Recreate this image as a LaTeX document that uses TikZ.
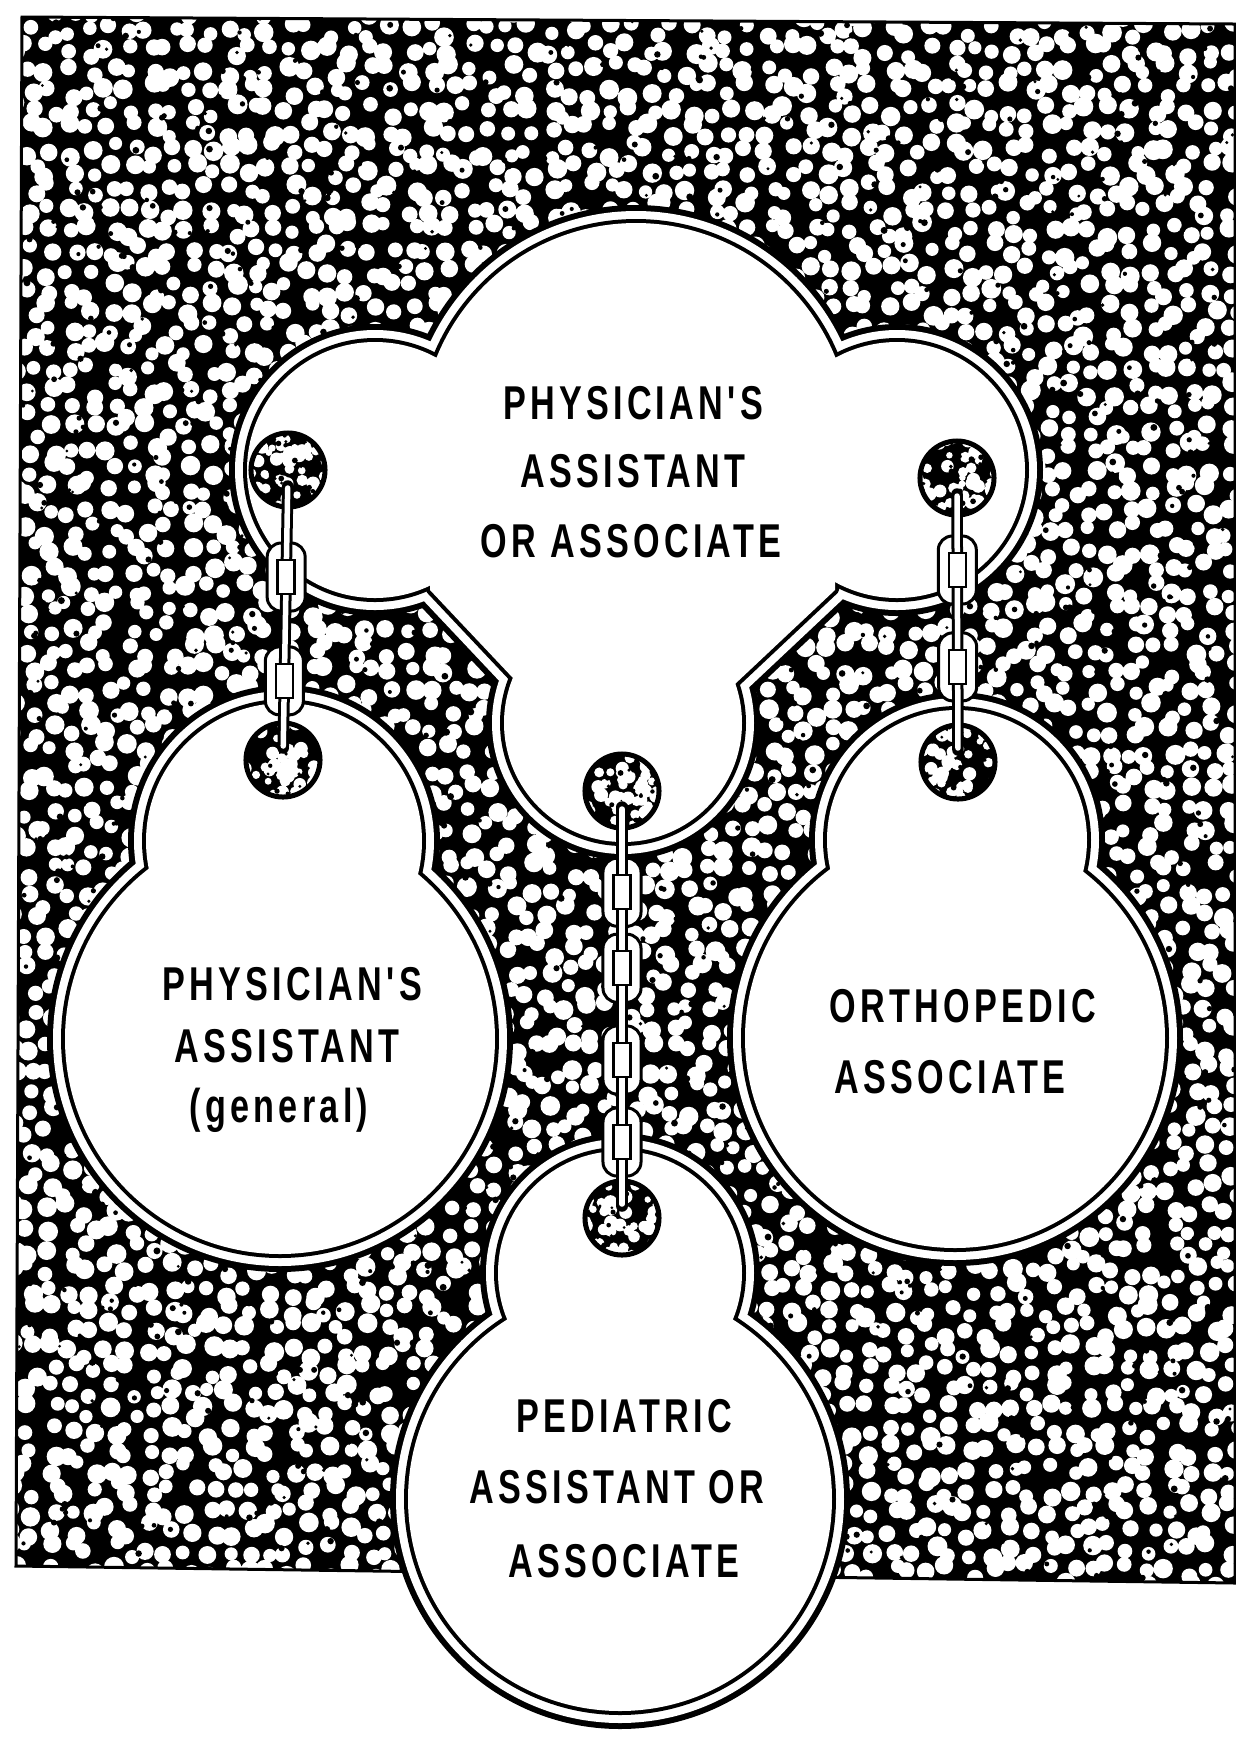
\documentclass[tikz,border=0pt]{standalone}
\usepackage{fontspec}
\usepackage{tikz}
\newfontfamily\tagfont[FakeStretch=0.72,LetterSpace=9]{Liberation Sans}

% cloud = four lobes and a neck plate, #1 offset, #2 colour, #3 neck pen
\newcommand{\cloudlayer}[4]{%
  \fill[#2] (636,438) circle ({215+#1}) (375,470) circle ({128+#1})
            (897,470) circle ({128+#1}) (623,723) circle ({119+#1});
  \path[fill=#2, draw=#3, line width=#4, line join=round]
    (430,420) -- (430,590) -- (513,678) -- (735,684) -- (835,590) -- (835,420) -- cycle;}
% tag = head circle + body circle (inner radii)
\newcommand{\gourd}[6]{%
  \foreach \o/\c in {18/black,12/white,4/black,0/white}
    {\fill[\c] (#1,#2) circle ({#3+\o}) (#4,#5) circle ({#6+\o});}}

\tikzset{
  tag/.style={font=\tagfont\bfseries\fontsize{13.5pt}{16pt}\selectfont, anchor=base, inner sep=0pt},
  ring/.style={circle, draw=black, line width=0.05cm, minimum size=0.74cm, inner sep=0pt,
    path picture={
      \fill[black] (path picture bounding box.south west) rectangle (path picture bounding box.north east);
      \fill[white, shift={(path picture bounding box.center)}]
        foreach \k in {1,...,60} {({rnd*84-42},{rnd*84-42}) circle ({3+4*rnd})};
      \fill[black, shift={(path picture bounding box.center)}]
        foreach \k in {1,...,25} {({rnd*84-42},{rnd*84-42}) circle ({1.5+1.5*rnd})};
    }},
  link/.style={draw=black, fill=white, line width=0.03cm, rounded corners=0.14cm,
    minimum width=0.38cm, minimum height=0.68cm, inner sep=0pt},
  eye/.style={draw=black, fill=white, line width=0.025cm,
    minimum width=0.17cm, minimum height=0.34cm, inner sep=0pt},
  barout/.style={line width=0.115cm, black, line cap=round},
  barin/.style={line width=0.055cm, white, line cap=round},
}

\begin{document}
\begin{tikzpicture}[x=0.01cm, y=-0.01cm]
  \useasboundingbox (0,0) rectangle (1235,1741);

  % mottled backdrop
  \begin{scope}
    \clip (22,17) -- (1235,24) -- (1235,1583) -- (16,1566) -- cycle;
    \fill[black] (0,0) rectangle (1235,1600);
    \pgfmathsetseed{31}
    \foreach \r in {0,...,79}
      {\fill[white] foreach \c in {0,...,61}
        {({20*\c+10+16*rnd-8},{20*\r+10+16*rnd-8}) circle ({6.5+3.5*rnd})};}
    \foreach \j in {1,...,10}
      {\fill[black] foreach \k in {1,...,180} {({rnd*1240},{rnd*1600}) circle ({1.5+2*rnd})};}
  \end{scope}
  \draw[line width=0.03cm] (22,17) -- (1235,24) -- (1235,1583) -- (16,1566) -- cycle;

  % the four tags
  \foreach \o/\c/\d/\w in {18/black/black/0.36cm, 12/white/white/0.24cm, 4/black/black/0.08cm, 0/white/none/0cm}
    {\cloudlayer{\o}{\c}{\d}{\w}}
  \gourd{284}{841}{138}{280}{1039}{215}
  \gourd{957}{840}{130}{955}{1038}{210}
  \gourd{620}{1273}{122}{620}{1499}{212}

  % labels
  \node[tag] (top1) at (633,419) {PHYSICIAN'S};
  \node[tag] (top2) at (633,487) {ASSISTANT};
  \node[tag] (top3) at (631,557) {OR ASSOCIATE};
  \node[tag] (gen1) at (292,1000) {PHYSICIAN'S};
  \node[tag] (gen2) at (287,1062) {ASSISTANT};
  \node[tag] (gen3) at (279,1122) {(general)};
  \node[tag] (ort1) at (963,1022) {ORTHOPEDIC};
  \node[tag] (ort2) at (950,1093) {ASSOCIATE};
  \node[tag] (ped1) at (624,1432) {PEDIATRIC};
  \node[tag] (ped2) at (617,1503) {ASSISTANT OR};
  \node[tag] (ped3) at (624,1577) {ASSOCIATE};

  % rings
  \node[ring] (top-l) at (288,470) {};
  \node[ring] (top-r) at (957,478) {};
  \node[ring] (top-m) at (622,791) {};
  \node[ring] (gen) at (283,760) {};
  \node[ring] (ortho) at (958,762) {};
  \node[ring] (ped) at (622,1218) {};

  % chains
  \foreach \a/\b/\ps in {top-l/gen/{0.369,0.727}, top-r/ortho/{0.324,0.665},
                         top-m/ped/{0.237,0.415,0.63,0.822}} {
    \foreach \p [count=\i] in \ps
      {\path (\a.center) -- (\b.center) node[link, pos=\p] (\a-link\i) {};}
    \draw[barout, shorten <=0.16cm, shorten >=0.12cm] (\a.center) -- (\b.center);
    \draw[barin, shorten <=0.18cm, shorten >=0.14cm] (\a.center) -- (\b.center);
    \foreach \p [count=\i] in \ps
      {\path (\a.center) -- (\b.center) node[eye, pos=\p] (\a-eye\i) {};}
  }
\end{tikzpicture}
\end{document}
